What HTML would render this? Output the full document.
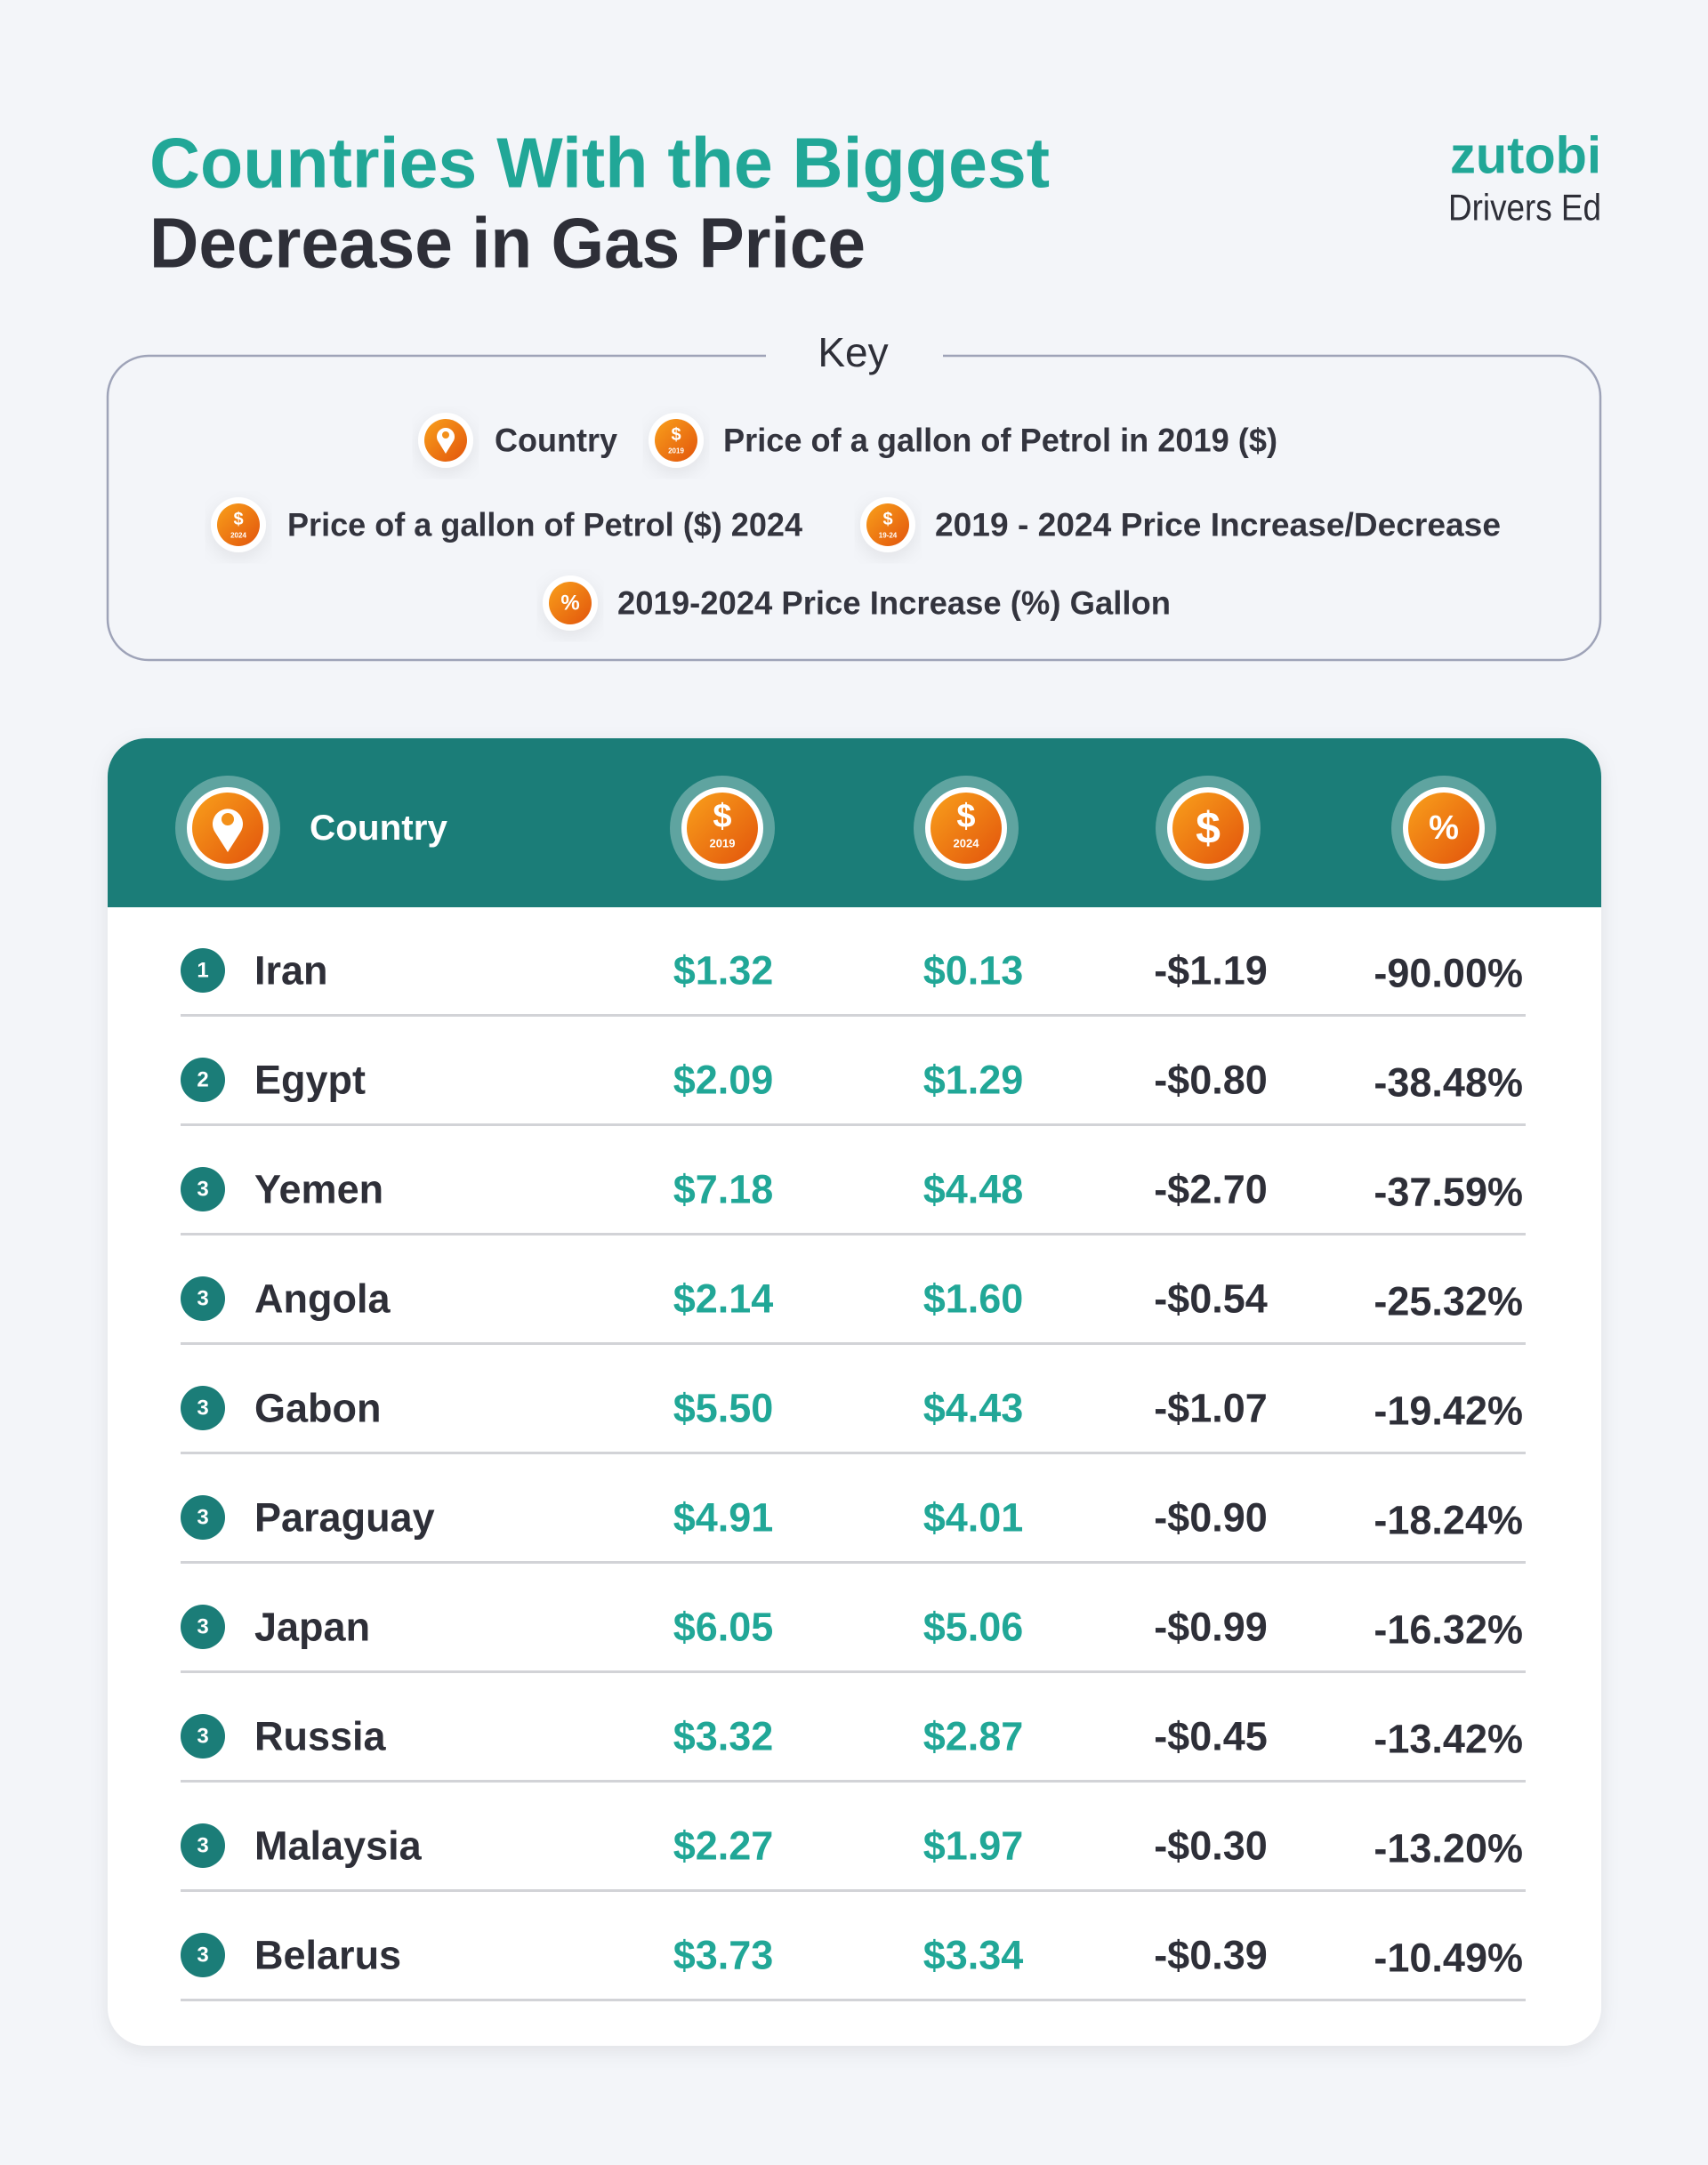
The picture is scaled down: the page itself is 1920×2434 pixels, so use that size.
<!DOCTYPE html>
<html><head><meta charset="utf-8"><style>
html,body{margin:0;padding:0;background:#f3f5f9;}
svg{display:block;font-family:"Liberation Sans",sans-serif;}
</style></head><body>
<svg width="1920" height="2434" viewBox="0 0 1920 2434" xmlns="http://www.w3.org/2000/svg">
<defs>
<linearGradient id="og" x1="0" y1="0" x2="1" y2="1"><stop offset="0" stop-color="#f9a01b"/><stop offset="1" stop-color="#e2540c"/></linearGradient>
<filter id="sh" x="-10%" y="-10%" width="120%" height="130%"><feDropShadow dx="0" dy="6" stdDeviation="10" flood-color="#000" flood-opacity="0.08"/></filter>
</defs>
<rect width="1920" height="2434" fill="#f3f5f9"/>
<!-- Title -->
<text x="168" y="183" dominant-baseline="central" font-size="80" font-weight="bold" fill="#21a797" textLength="1012" lengthAdjust="spacingAndGlyphs">Countries With the Biggest</text>
<text x="168" y="273" dominant-baseline="central" font-size="80" font-weight="bold" fill="#2e2f38" textLength="805" lengthAdjust="spacingAndGlyphs">Decrease in Gas Price</text>
<text x="1800" y="175" dominant-baseline="central" text-anchor="end" font-size="58" font-weight="bold" fill="#21a797" textLength="170" lengthAdjust="spacingAndGlyphs">zutobi</text>
<text x="1800" y="233" dominant-baseline="central" text-anchor="end" font-size="42" fill="#2e2f38" textLength="172" lengthAdjust="spacingAndGlyphs">Drivers Ed</text>
<!-- Key box -->
<path d="M861 400 H167 A46 46 0 0 0 121 446 V696 A46 46 0 0 0 167 742 H1753 A46 46 0 0 0 1799 696 V446 A46 46 0 0 0 1753 400 H1060" fill="none" stroke="#9ea3b8" stroke-width="2.5"/>
<text x="959" y="396" dominant-baseline="central" text-anchor="middle" font-size="46" fill="#2e2f38">Key</text>
<g font-size="37" font-weight="bold" fill="#33343e">
<g id="k"></g>
<circle cx="501" cy="495" r="31" fill="#fff" filter="url(#sh)"/><circle cx="501" cy="495" r="24" fill="url(#og)"/>
<path d="M501 510 l-8 -13 a10 10 0 1 1 16 0 z" fill="#fff"/><circle cx="501" cy="489" r="4" fill="#f39019"/>
<text x="556" y="495" dominant-baseline="central" textLength="138" lengthAdjust="spacingAndGlyphs">Country</text>
<circle cx="760" cy="495" r="31" fill="#fff" filter="url(#sh)"/><circle cx="760" cy="495" r="24" fill="url(#og)"/>
<text x="760" y="489" text-anchor="middle" dominant-baseline="central" font-size="20" fill="#fff">$</text><text x="760" y="507" text-anchor="middle" dominant-baseline="central" font-size="8" fill="#fff">2019</text>
<text x="813" y="495" dominant-baseline="central" textLength="623" lengthAdjust="spacingAndGlyphs">Price of a gallon of Petrol in 2019 ($)</text>
<circle cx="268" cy="590" r="31" fill="#fff" filter="url(#sh)"/><circle cx="268" cy="590" r="24" fill="url(#og)"/>
<text x="268" y="584" text-anchor="middle" dominant-baseline="central" font-size="20" fill="#fff">$</text><text x="268" y="602" text-anchor="middle" dominant-baseline="central" font-size="8" fill="#fff">2024</text>
<text x="323" y="590" dominant-baseline="central" textLength="579" lengthAdjust="spacingAndGlyphs">Price of a gallon of Petrol ($) 2024</text>
<circle cx="998" cy="590" r="31" fill="#fff" filter="url(#sh)"/><circle cx="998" cy="590" r="24" fill="url(#og)"/>
<text x="998" y="584" text-anchor="middle" dominant-baseline="central" font-size="20" fill="#fff">$</text><text x="998" y="602" text-anchor="middle" dominant-baseline="central" font-size="8" fill="#fff">19-24</text>
<text x="1051" y="590" dominant-baseline="central" textLength="636" lengthAdjust="spacingAndGlyphs">2019 - 2024 Price Increase/Decrease</text>
<circle cx="641" cy="678" r="31" fill="#fff" filter="url(#sh)"/><circle cx="641" cy="678" r="24" fill="url(#og)"/>
<text x="641" y="678" text-anchor="middle" dominant-baseline="central" font-size="24" fill="#fff">%</text>
<text x="694" y="678" dominant-baseline="central" textLength="622" lengthAdjust="spacingAndGlyphs">2019-2024 Price Increase (%) Gallon</text>
</g>
<!-- Table card -->
<rect x="121" y="830" width="1679" height="1470" rx="43" fill="#fff" filter="url(#sh)"/>
<path d="M121 1020 V873 A43 43 0 0 1 164 830 H1757 A43 43 0 0 1 1800 873 V1020 Z" fill="#1b7d78"/>
<g>
<circle cx="256" cy="931" r="59" fill="#ffffff" fill-opacity="0.3"/><circle cx="256" cy="931" r="46" fill="#fff"/><circle cx="256" cy="931" r="40" fill="url(#og)"/>
<path d="M256 958 l-14 -22 a17 17 0 1 1 28 0 z" fill="#fff"/><circle cx="256" cy="921" r="7" fill="#f39019"/>
<text x="348" y="931" dominant-baseline="central" font-size="40" font-weight="bold" fill="#fff" textLength="155" lengthAdjust="spacingAndGlyphs">Country</text>
<circle cx="812" cy="931" r="59" fill="#ffffff" fill-opacity="0.3"/><circle cx="812" cy="931" r="46" fill="#fff"/><circle cx="812" cy="931" r="40" fill="url(#og)"/>
<text x="812" y="918" text-anchor="middle" dominant-baseline="central" font-size="38" font-weight="bold" fill="#fff">$</text><text x="812" y="948" text-anchor="middle" dominant-baseline="central" font-size="13" font-weight="bold" fill="#fff">2019</text>
<circle cx="1086" cy="931" r="59" fill="#ffffff" fill-opacity="0.3"/><circle cx="1086" cy="931" r="46" fill="#fff"/><circle cx="1086" cy="931" r="40" fill="url(#og)"/>
<text x="1086" y="918" text-anchor="middle" dominant-baseline="central" font-size="38" font-weight="bold" fill="#fff">$</text><text x="1086" y="948" text-anchor="middle" dominant-baseline="central" font-size="13" font-weight="bold" fill="#fff">2024</text>
<circle cx="1358" cy="931" r="59" fill="#ffffff" fill-opacity="0.3"/><circle cx="1358" cy="931" r="46" fill="#fff"/><circle cx="1358" cy="931" r="40" fill="url(#og)"/>
<text x="1358" y="931" text-anchor="middle" dominant-baseline="central" font-size="50" font-weight="bold" fill="#fff">$</text>
<circle cx="1623" cy="931" r="59" fill="#ffffff" fill-opacity="0.3"/><circle cx="1623" cy="931" r="46" fill="#fff"/><circle cx="1623" cy="931" r="40" fill="url(#og)"/>
<text x="1623" y="931" text-anchor="middle" dominant-baseline="central" font-size="38" font-weight="bold" fill="#fff">%</text>
</g>
<g font-weight="bold" font-size="45">
<!-- rows: y = 1091 + i*123 -->
<g transform="translate(0,1091)"><circle cx="228" cy="0" r="25" fill="#1b7d78"/><text x="228" y="0" font-size="24" fill="#fff" text-anchor="middle" dominant-baseline="central">1</text><text x="286" y="0" dominant-baseline="central" fill="#2e2f38">Iran</text><text x="813" y="0" text-anchor="middle" dominant-baseline="central" fill="#21a797">$1.32</text><text x="1094" y="0" text-anchor="middle" dominant-baseline="central" fill="#21a797">$0.13</text><text x="1361" y="0" text-anchor="middle" dominant-baseline="central" fill="#2e2f38">-$1.19</text><text x="1712" y="3" text-anchor="end" dominant-baseline="central" fill="#2e2f38">-90.00%</text><rect x="203" y="49" width="1512" height="3" fill="#d2d3d7"/></g>
<g transform="translate(0,1214)"><circle cx="228" cy="0" r="25" fill="#1b7d78"/><text x="228" y="0" font-size="24" fill="#fff" text-anchor="middle" dominant-baseline="central">2</text><text x="286" y="0" dominant-baseline="central" fill="#2e2f38">Egypt</text><text x="813" y="0" text-anchor="middle" dominant-baseline="central" fill="#21a797">$2.09</text><text x="1094" y="0" text-anchor="middle" dominant-baseline="central" fill="#21a797">$1.29</text><text x="1361" y="0" text-anchor="middle" dominant-baseline="central" fill="#2e2f38">-$0.80</text><text x="1712" y="3" text-anchor="end" dominant-baseline="central" fill="#2e2f38">-38.48%</text><rect x="203" y="49" width="1512" height="3" fill="#d2d3d7"/></g>
<g transform="translate(0,1337)"><circle cx="228" cy="0" r="25" fill="#1b7d78"/><text x="228" y="0" font-size="24" fill="#fff" text-anchor="middle" dominant-baseline="central">3</text><text x="286" y="0" dominant-baseline="central" fill="#2e2f38">Yemen</text><text x="813" y="0" text-anchor="middle" dominant-baseline="central" fill="#21a797">$7.18</text><text x="1094" y="0" text-anchor="middle" dominant-baseline="central" fill="#21a797">$4.48</text><text x="1361" y="0" text-anchor="middle" dominant-baseline="central" fill="#2e2f38">-$2.70</text><text x="1712" y="3" text-anchor="end" dominant-baseline="central" fill="#2e2f38">-37.59%</text><rect x="203" y="49" width="1512" height="3" fill="#d2d3d7"/></g>
<g transform="translate(0,1460)"><circle cx="228" cy="0" r="25" fill="#1b7d78"/><text x="228" y="0" font-size="24" fill="#fff" text-anchor="middle" dominant-baseline="central">3</text><text x="286" y="0" dominant-baseline="central" fill="#2e2f38">Angola</text><text x="813" y="0" text-anchor="middle" dominant-baseline="central" fill="#21a797">$2.14</text><text x="1094" y="0" text-anchor="middle" dominant-baseline="central" fill="#21a797">$1.60</text><text x="1361" y="0" text-anchor="middle" dominant-baseline="central" fill="#2e2f38">-$0.54</text><text x="1712" y="3" text-anchor="end" dominant-baseline="central" fill="#2e2f38">-25.32%</text><rect x="203" y="49" width="1512" height="3" fill="#d2d3d7"/></g>
<g transform="translate(0,1583)"><circle cx="228" cy="0" r="25" fill="#1b7d78"/><text x="228" y="0" font-size="24" fill="#fff" text-anchor="middle" dominant-baseline="central">3</text><text x="286" y="0" dominant-baseline="central" fill="#2e2f38">Gabon</text><text x="813" y="0" text-anchor="middle" dominant-baseline="central" fill="#21a797">$5.50</text><text x="1094" y="0" text-anchor="middle" dominant-baseline="central" fill="#21a797">$4.43</text><text x="1361" y="0" text-anchor="middle" dominant-baseline="central" fill="#2e2f38">-$1.07</text><text x="1712" y="3" text-anchor="end" dominant-baseline="central" fill="#2e2f38">-19.42%</text><rect x="203" y="49" width="1512" height="3" fill="#d2d3d7"/></g>
<g transform="translate(0,1706)"><circle cx="228" cy="0" r="25" fill="#1b7d78"/><text x="228" y="0" font-size="24" fill="#fff" text-anchor="middle" dominant-baseline="central">3</text><text x="286" y="0" dominant-baseline="central" fill="#2e2f38">Paraguay</text><text x="813" y="0" text-anchor="middle" dominant-baseline="central" fill="#21a797">$4.91</text><text x="1094" y="0" text-anchor="middle" dominant-baseline="central" fill="#21a797">$4.01</text><text x="1361" y="0" text-anchor="middle" dominant-baseline="central" fill="#2e2f38">-$0.90</text><text x="1712" y="3" text-anchor="end" dominant-baseline="central" fill="#2e2f38">-18.24%</text><rect x="203" y="49" width="1512" height="3" fill="#d2d3d7"/></g>
<g transform="translate(0,1829)"><circle cx="228" cy="0" r="25" fill="#1b7d78"/><text x="228" y="0" font-size="24" fill="#fff" text-anchor="middle" dominant-baseline="central">3</text><text x="286" y="0" dominant-baseline="central" fill="#2e2f38">Japan</text><text x="813" y="0" text-anchor="middle" dominant-baseline="central" fill="#21a797">$6.05</text><text x="1094" y="0" text-anchor="middle" dominant-baseline="central" fill="#21a797">$5.06</text><text x="1361" y="0" text-anchor="middle" dominant-baseline="central" fill="#2e2f38">-$0.99</text><text x="1712" y="3" text-anchor="end" dominant-baseline="central" fill="#2e2f38">-16.32%</text><rect x="203" y="49" width="1512" height="3" fill="#d2d3d7"/></g>
<g transform="translate(0,1952)"><circle cx="228" cy="0" r="25" fill="#1b7d78"/><text x="228" y="0" font-size="24" fill="#fff" text-anchor="middle" dominant-baseline="central">3</text><text x="286" y="0" dominant-baseline="central" fill="#2e2f38">Russia</text><text x="813" y="0" text-anchor="middle" dominant-baseline="central" fill="#21a797">$3.32</text><text x="1094" y="0" text-anchor="middle" dominant-baseline="central" fill="#21a797">$2.87</text><text x="1361" y="0" text-anchor="middle" dominant-baseline="central" fill="#2e2f38">-$0.45</text><text x="1712" y="3" text-anchor="end" dominant-baseline="central" fill="#2e2f38">-13.42%</text><rect x="203" y="49" width="1512" height="3" fill="#d2d3d7"/></g>
<g transform="translate(0,2075)"><circle cx="228" cy="0" r="25" fill="#1b7d78"/><text x="228" y="0" font-size="24" fill="#fff" text-anchor="middle" dominant-baseline="central">3</text><text x="286" y="0" dominant-baseline="central" fill="#2e2f38">Malaysia</text><text x="813" y="0" text-anchor="middle" dominant-baseline="central" fill="#21a797">$2.27</text><text x="1094" y="0" text-anchor="middle" dominant-baseline="central" fill="#21a797">$1.97</text><text x="1361" y="0" text-anchor="middle" dominant-baseline="central" fill="#2e2f38">-$0.30</text><text x="1712" y="3" text-anchor="end" dominant-baseline="central" fill="#2e2f38">-13.20%</text><rect x="203" y="49" width="1512" height="3" fill="#d2d3d7"/></g>
<g transform="translate(0,2198)"><circle cx="228" cy="0" r="25" fill="#1b7d78"/><text x="228" y="0" font-size="24" fill="#fff" text-anchor="middle" dominant-baseline="central">3</text><text x="286" y="0" dominant-baseline="central" fill="#2e2f38">Belarus</text><text x="813" y="0" text-anchor="middle" dominant-baseline="central" fill="#21a797">$3.73</text><text x="1094" y="0" text-anchor="middle" dominant-baseline="central" fill="#21a797">$3.34</text><text x="1361" y="0" text-anchor="middle" dominant-baseline="central" fill="#2e2f38">-$0.39</text><text x="1712" y="3" text-anchor="end" dominant-baseline="central" fill="#2e2f38">-10.49%</text><rect x="203" y="49" width="1512" height="3" fill="#d2d3d7"/></g>
</g>
</svg>
</body></html>
